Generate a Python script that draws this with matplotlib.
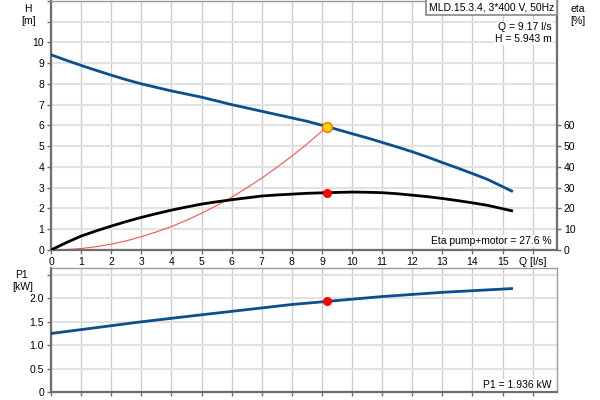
import numpy as np
import matplotlib.pyplot as plt
import matplotlib as mpl

mpl.rcParams.update({"font.family": ["Liberation Sans", "DejaVu Sans"],
                     "font.size": 7.5})

# pump curve H [m]
q_h = [0, 0.5, 1, 1.5, 2, 2.5, 3, 3.5, 4, 4.5, 5, 5.5, 6, 6.5, 7, 7.5, 8, 8.5,
       9.17, 10, 10.5, 11, 11.5, 12, 12.5, 13, 13.5, 14, 14.5, 15.3]
h = [9.4, 9.14, 8.89, 8.65, 8.42, 8.2, 8.0, 7.83, 7.66, 7.51, 7.36, 7.18, 7.0,
     6.84, 6.68, 6.52, 6.36, 6.2, 5.943, 5.6, 5.4, 5.18, 4.96, 4.73, 4.48,
     4.21, 3.95, 3.68, 3.4, 2.84]

# efficiency eta pump+motor [%]
q_eta = [0, 0.5, 1, 1.5, 2, 2.5, 3, 3.5, 4, 4.5, 5, 5.5, 6, 6.5, 7, 7.5, 8, 8.5,
         9.17, 10, 10.5, 11, 11.5, 12, 12.5, 13, 13.5, 14, 14.5, 15.3]
eta = [0, 3.5, 6.7, 9.2, 11.5, 13.7, 15.7, 17.5, 19.2, 20.7, 22.1, 23.2, 24.2,
       25.1, 26.0, 26.5, 26.9, 27.3, 27.6, 27.9, 27.8, 27.6, 27.1, 26.4, 25.7,
       24.8, 23.8, 22.7, 21.5, 18.9]

# system curve H [m]
q_sys = [0, 0.5, 1, 1.5, 2, 2.5, 3, 3.5, 4, 4.5, 5, 5.5, 6, 6.5, 7, 7.5, 8, 8.5, 9.17]
h_sys = [0, 0.02, 0.07, 0.16, 0.28, 0.44, 0.64, 0.87, 1.13, 1.43, 1.77, 2.14,
         2.54, 2.99, 3.46, 3.98, 4.52, 5.1, 5.943]

# power P1 [kW]
q_p = [0, 3, 5, 8, 9.17, 11, 13, 15.3]
p1 = [1.25, 1.50, 1.65, 1.87, 1.936, 2.04, 2.13, 2.21]

duty_q = 9.17
duty_h = 5.943
duty_eta = 27.6
duty_p = 1.936

blue = '#0b4f8c'
dark = '#6e6e6e'

fig = plt.figure(figsize=(6, 4), dpi=100)
ax = fig.add_axes([0.085, 0.375, 0.843, 0.623])
ax2 = ax.twinx()
axp = fig.add_axes([0.085, 0.02, 0.843, 0.31])

def style(a):
    a.set_xlim(0, 16.8)
    a.set_xticks(range(17))
    a.grid(True, axis='x', color='#cccccc', lw=1)
    a.grid(True, axis='y', color='#e2e2e2', lw=1.5)
    a.set_axisbelow(True)
    for s in ['top', 'right']:
        a.spines[s].set_color('#9a9a9a')
        a.spines[s].set_linewidth(1)
    for s in ['left', 'bottom']:
        a.spines[s].set_color(dark)
        a.spines[s].set_linewidth(1.6)
    a.tick_params(length=3, width=1, color=dark, pad=2)

style(ax)
ax.set_ylim(0, 12)
ax.set_yticks(range(13))
ax.set_yticklabels([str(i) for i in range(11)] + ['', ''])
ax.set_xticklabels([str(i) for i in range(16)] + ['Q [l/s]'])

ax2.set_ylim(0, 120)
ax2.set_yticks(range(0, 70, 10))
ax2.tick_params(length=3, width=1, color=dark, pad=2)
for s in ax2.spines.values():
    s.set_visible(False)
ax.spines['right'].set_color(dark)
ax.spines['right'].set_linewidth(1.6)

ax.plot(q_h, h, color=blue, lw=2, zorder=3)
ax.plot(q_sys, h_sys, color='#ff5050', lw=0.8, zorder=2)
ax2.plot(q_eta, eta, color='black', lw=2, zorder=3)
ax2.plot([duty_q], [duty_eta], 'o', color='red', ms=5.5, zorder=4)
ax.plot([duty_q], [duty_h], 'o', mfc='#ffd700', mec='#ff6a00', mew=1, ms=7, zorder=5)

ax.text(0.995, 0.995, 'MLD.15.3.4, 3*400 V, 50Hz', transform=ax.transAxes,
        ha='right', va='top', fontsize=7.5,
        bbox=dict(boxstyle='square,pad=0.25', fc='white', ec='#888888', lw=1.2))
ax.text(0.99, 0.895, 'Q = 9.17 l/s', transform=ax.transAxes, ha='right', va='center',
        bbox=dict(boxstyle='square,pad=0.1', fc='white', ec='none'))
ax.text(0.99, 0.848, 'H = 5.943 m', transform=ax.transAxes, ha='right', va='center',
        bbox=dict(boxstyle='square,pad=0.1', fc='white', ec='none'))
ax.text(0.99, 0.035, 'Eta pump+motor = 27.6 %', transform=ax.transAxes, ha='right', va='center',
        bbox=dict(boxstyle='square,pad=0.1', fc='white', ec='none'))

fig.text(0.047, 0.99, 'H', ha='center', va='top')
fig.text(0.047, 0.96, '[m]', ha='center', va='top')
fig.text(0.963, 0.99, 'eta', ha='center', va='top')
fig.text(0.963, 0.96, '[%]', ha='center', va='top')

style(axp)
axp.set_xticklabels([])
axp.set_ylim(0, 2.65)
axp.set_yticks([0, 0.5, 1.0, 1.5, 2.0, 2.5])
axp.set_yticklabels(['0', '0.5', '1.0', '1.5', '2.0', ''])
axp.plot(q_p, p1, color=blue, lw=2, zorder=3)
axp.plot([duty_q], [duty_p], 'o', color='red', ms=5.5, zorder=4)
axp.text(0.99, 0.06, 'P1 = 1.936 kW', transform=axp.transAxes, ha='right', va='center',
         bbox=dict(boxstyle='square,pad=0.1', fc='white', ec='none'))
fig.text(0.035, 0.325, 'P1', ha='center', va='top')
fig.text(0.038, 0.295, '[kW]', ha='center', va='top')

plt.savefig('out.png')
